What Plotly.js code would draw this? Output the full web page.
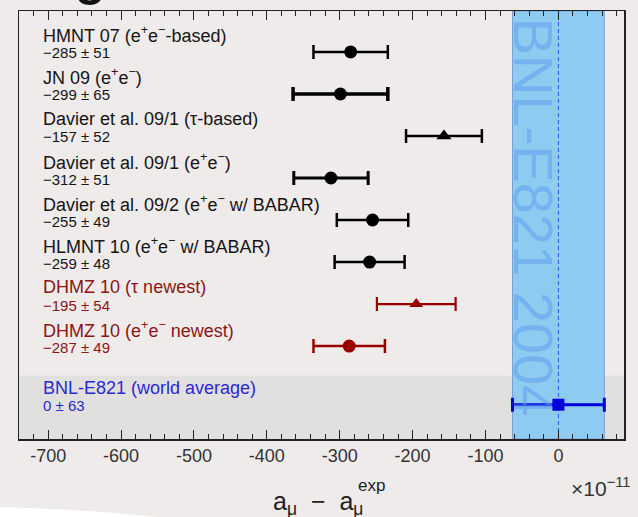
<!DOCTYPE html>
<html>
<head>
<meta charset="utf-8">
<script src="https://cdn.plot.ly/plotly-3.0.1.min.js"></script>
<style>
  html, body { margin: 0; padding: 0; background: #efebeb; }
  #chart { width: 638px; height: 517px; }
</style>
</head>
<body>
<div id="chart"></div>
<script>
// ---- data ----
const names = [
  "HMNT 07 (e<sup>+</sup>e<sup>−</sup>-based)",
  "JN 09 (e<sup>+</sup>e<sup>−</sup>)",
  "Davier et al. 09/1 (τ-based)",
  "Davier et al. 09/1 (e<sup>+</sup>e<sup>−</sup>)",
  "Davier et al. 09/2 (e<sup>+</sup>e<sup>−</sup> w/ BABAR)",
  "HLMNT 10 (e<sup>+</sup>e<sup>−</sup> w/ BABAR)",
  "DHMZ 10 (τ newest)",
  "DHMZ 10 (e<sup>+</sup>e<sup>−</sup> newest)",
  "BNL-E821 (world average)"
];
const values = [-285, -299, -157, -312, -255, -259, -195, -287, 0];
const errors = [51, 65, 52, 51, 49, 48, 54, 49, 63];
const tickVals = [-700, -600, -500, -400, -300, -200, -100, 0];
const tickText = ["-700", "-600", "-500", "-400", "-300", "-200", "-100", "0"];
const expValue = 0;
const expError = 63;

// ---- styles ----
const colors  = ["#000","#000","#000","#000","#000","#000","#990000","#990000","#0000dd"];
const labelColors = ["#151515","#151515","#151515","#151515","#151515","#151515","#8b1414","#8b1414","#2a2ad0"];
const symbols = ["circle","circle","triangle-up","circle","circle","circle","triangle-up","circle","square"];
const sizes   = [13,13,13,13,13,13,12,13,12];
const thick   = [2.5,3.5,2.5,3,2.5,2.5,2.2,2.5,3];
const FONT = "Liberation Sans, Arial, Helvetica, sans-serif";

// row layout: evenly spaced rows, extra gap before the experimental row
const lastGapExtra = 0.396;
const yPos = values.map((v, i) => i < values.length - 1 ? i : i + lastGapExtra);

function fmtVal(v, e) {
  const s = v < 0 ? "−" + Math.abs(v) : String(v);
  return s + " ± " + e;
}

const traces = values.map((v, i) => ({
  type: "scatter",
  mode: "markers",
  x: [v],
  y: [yPos[i]],
  marker: { color: colors[i], symbol: symbols[i], size: sizes[i] },
  error_x: { type: "data", array: [errors[i]], color: colors[i], thickness: thick[i], width: 7 },
  showlegend: false,
  hoverinfo: "skip"
}));

// px -> paper helpers for decorations outside the plot area
const L = 19, R = 14, T = 11, B = 78, W = 638, H = 517;
const pw = W - L - R, ph = H - T - B;
const px = x => (x - L) / pw;
const py = y => (H - B - y) / ph;

const annotations = [];
names.forEach((n, i) => {
  annotations.push({
    xref: "x", yref: "y", x: -710, y: yPos[i], xanchor: "left", yanchor: "middle",
    text: n, showarrow: false, yshift: 17,
    font: { family: FONT, size: 18, color: labelColors[i] }
  });
  annotations.push({
    xref: "x", yref: "y", x: -710, y: yPos[i], xanchor: "left", yanchor: "middle",
    text: fmtVal(values[i], errors[i]), showarrow: false, yshift: -1,
    font: { family: FONT, size: 15, color: labelColors[i] }
  });
});
// big rotated band label
annotations.push({
  xref: "x", yref: "y", x: -33, y: 3.93, text: "BNL-E821 2004", textangle: 90,
  showarrow: false, xanchor: "center", yanchor: "middle",
  font: { family: FONT, size: 56, color: "rgba(100,162,240,0.6)" }
});
// axis title pieces
annotations.push({
  xref: "paper", yref: "paper", x: px(318), y: py(503), xanchor: "center", yanchor: "middle",
  text: "a<sub>μ</sub>  −  a<sub>μ</sub>", showarrow: false,
  font: { family: FONT, size: 25, color: "#222" }
});
annotations.push({
  xref: "paper", yref: "paper", x: px(371), y: py(485), xanchor: "center", yanchor: "middle",
  text: "exp", showarrow: false,
  font: { family: FONT, size: 17, color: "#222" }
});
annotations.push({
  xref: "paper", yref: "paper", x: px(600), y: py(487), xanchor: "center", yanchor: "middle",
  text: "×10<sup>−11</sup>", showarrow: false,
  font: { family: FONT, size: 21, color: "#333" }
});
// cut-off heading letter at top-left
annotations.push({
  xref: "paper", yref: "paper", x: px(90), y: py(-22), xanchor: "center", yanchor: "middle",
  text: "<b>g</b>", showarrow: false,
  font: { family: FONT, size: 50, color: "#111" }
});

const shapes = [
  // grey band behind the experimental row
  { type: "rect", xref: "paper", yref: "y", x0: 0, x1: 1, y0: 7.706, y1: 9.212,
    fillcolor: "#e2dfdf", line: { width: 0 }, layer: "below" },
  // experimental band
  { type: "rect", xref: "x", yref: "paper", x0: expValue - expError, x1: expValue + expError, y0: 0, y1: 1,
    fillcolor: "#8ecbf1", line: { color: "#7a9fd8", width: 1 }, layer: "below" },
  // dashed central line
  { type: "line", xref: "x", yref: "paper", x0: expValue, x1: expValue, y0: 0, y1: 1,
    line: { color: "#3a4ee0", width: 1, dash: "4px,3px" }, layer: "below" },
  // white swoosh bottom-left
  { type: "path", xref: "paper", yref: "paper",
    path: `M ${px(-5)},${py(507)} Q ${px(90)},${py(509)} ${px(175)},${py(519)} L ${px(-5)},${py(525)} Z`,
    fillcolor: "#ffffff", line: { width: 0 }, layer: "below" }
];

const layout = {
  width: W, height: H,
  margin: { l: L, r: R, t: T, b: B, pad: 0 },
  paper_bgcolor: "#efebeb",
  plot_bgcolor: "#efebeb",
  showlegend: false,
  xaxis: {
    range: [-740, 90],
    tickmode: "array", tickvals: tickVals, ticktext: tickText,
    ticks: "inside", ticklen: 9, tickwidth: 1, tickcolor: "#222",
    minor: { ticks: "inside", ticklen: 5, tickmode: "linear", tick0: 0, dtick: 20, tickcolor: "#222", showgrid: false },
    showgrid: false, zeroline: false,
    showline: true, linecolor: "#222", linewidth: 1.5, mirror: "ticks",
    tickfont: { family: FONT, size: 18, color: "#333" },
    layer: "above traces"
  },
  yaxis: {
    range: [9.212, -0.975],
    showticklabels: false, ticks: "", showgrid: false, zeroline: false,
    showline: true, linecolor: "#222", linewidth: 1.5, mirror: true
  },
  shapes: shapes,
  annotations: annotations
};

Plotly.newPlot("chart", traces, layout, { displayModeBar: false, staticPlot: true });
</script>
</body>
</html>
